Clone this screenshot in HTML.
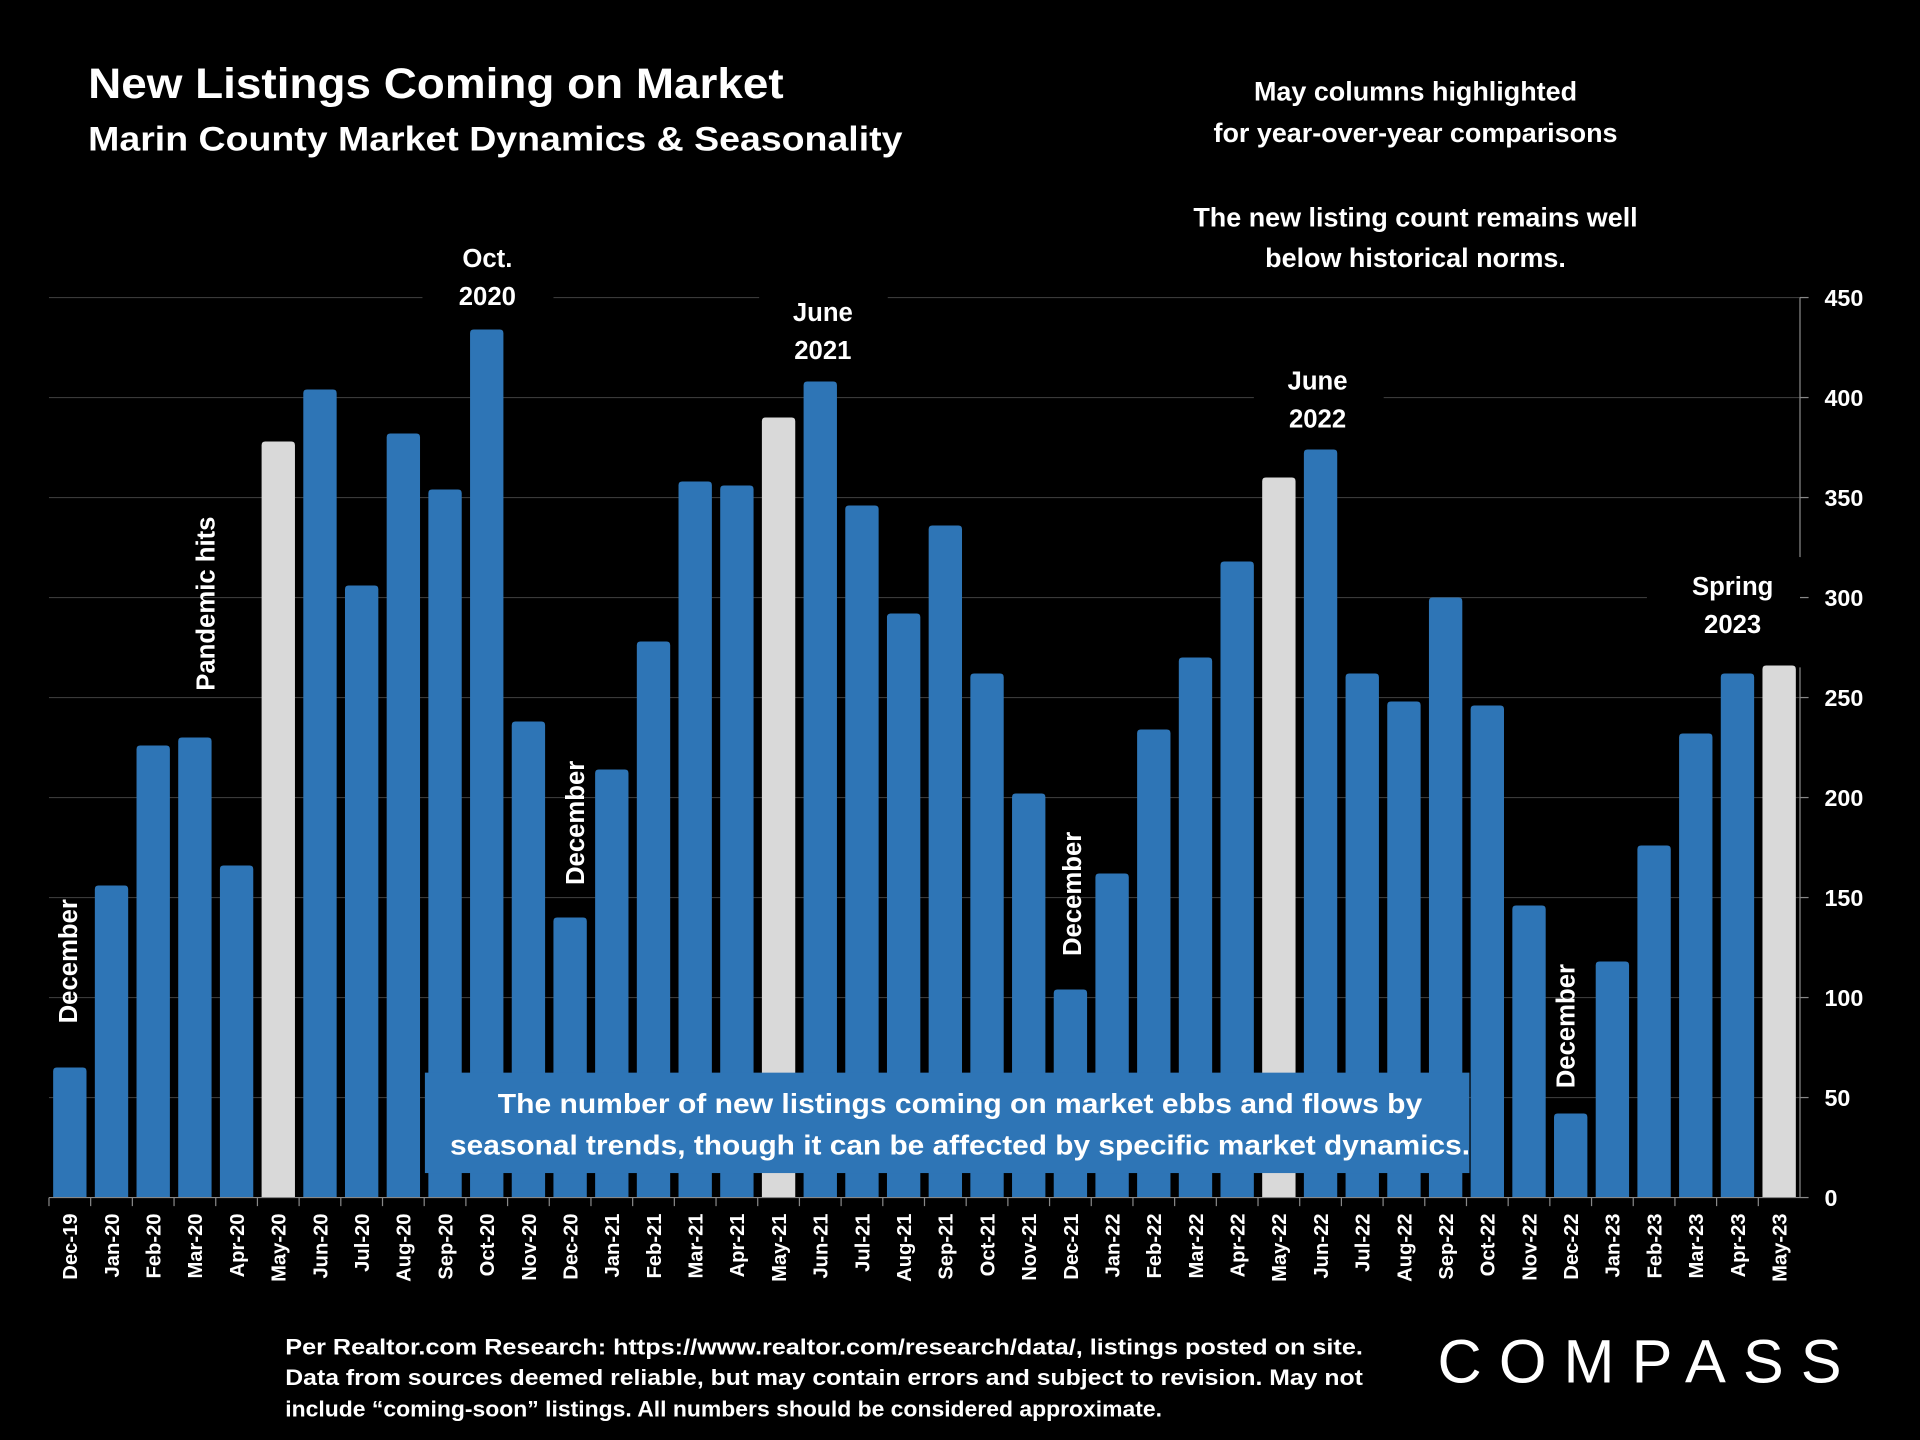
<!DOCTYPE html>
<html><head><meta charset="utf-8"><style>
html,body{margin:0;padding:0;background:#000;}
svg{display:block;font-family:"Liberation Sans",sans-serif;}
</style></head><body>
<svg id="chart" width="1920" height="1440" viewBox="0 0 1568 1176" xmlns="http://www.w3.org/2000/svg">
<rect width="1568" height="1176" fill="#000"/>
<g id="grid"></g>
<g id="bars"></g>
<g id="axes"></g>
<g id="annot" fill="#fff" font-weight="bold">
<text x="72" y="80" font-size="35" textLength="568" lengthAdjust="spacingAndGlyphs">New Listings Coming on Market</text>
<text x="72" y="123" font-size="28" textLength="665" lengthAdjust="spacingAndGlyphs">Marin County Market Dynamics &amp; Seasonality</text>
<g font-size="22" text-anchor="middle">
<text x="1156" y="82">May columns highlighted</text>
<text x="1156" y="116">for year-over-year comparisons</text>
<text x="1156" y="185">The new listing count remains well</text>
<text x="1156" y="218">below historical norms.</text>
</g>
</g>
<g id="labels" fill="#fff" font-weight="bold" font-size="21" text-anchor="middle">
<rect x="345" y="195" width="107" height="65" fill="#000"/>
<text x="398" y="218">Oct.<tspan x="398" dy="31">2020</tspan></text>
<rect x="620" y="238" width="105" height="65" fill="#000"/>
<text x="672" y="262">June<tspan x="672" dy="31">2021</tspan></text>
<rect x="1024" y="295" width="106" height="65" fill="#000"/>
<text x="1076" y="318">June<tspan x="1076" dy="31">2022</tspan></text>
<rect x="1345" y="455" width="125" height="78" fill="#000"/>
<text x="1415" y="486">Spring<tspan x="1415" dy="31">2023</tspan></text>
<text transform="translate(63,785) rotate(-90)">December</text>
<text transform="translate(175,493) rotate(-90)">Pandemic hits</text>
<text transform="translate(477,672) rotate(-90)">December</text>
<text transform="translate(883,730) rotate(-90)">December</text>
<text transform="translate(1286,838) rotate(-90)">December</text>
</g>
<g>
<rect x="347" y="876" width="853" height="82" fill="#2E75B6"/>
<text x="784" y="909" fill="#fff" font-weight="bold" font-size="23" text-anchor="middle" textLength="755" lengthAdjust="spacingAndGlyphs">The number of new listings coming on market ebbs and flows by</text>
<text x="784" y="943" fill="#fff" font-weight="bold" font-size="23" text-anchor="middle" textLength="833" lengthAdjust="spacingAndGlyphs">seasonal trends, though it can be affected by specific market dynamics.</text>
</g>
<g fill="#fff" font-weight="bold" font-size="18">
<text x="233" y="1106" textLength="880" lengthAdjust="spacingAndGlyphs">Per Realtor.com Research:  https://www.realtor.com/research/data/, listings posted on site.</text>
<text x="233" y="1131" textLength="880" lengthAdjust="spacingAndGlyphs">Data from sources deemed reliable, but may contain errors and subject to revision. May not</text>
<text x="233" y="1157" textLength="716" lengthAdjust="spacingAndGlyphs">include “coming-soon” listings. All numbers should be considered approximate.</text>
</g>
<text x="1174" y="1129" fill="#fff" font-size="50" textLength="330" lengthAdjust="spacing">COMPASS</text>
</svg>
<script>
const categories=["Dec-19","Jan-20","Feb-20","Mar-20","Apr-20","May-20","Jun-20","Jul-20","Aug-20","Sep-20","Oct-20","Nov-20","Dec-20","Jan-21","Feb-21","Mar-21","Apr-21","May-21","Jun-21","Jul-21","Aug-21","Sep-21","Oct-21","Nov-21","Dec-21","Jan-22","Feb-22","Mar-22","Apr-22","May-22","Jun-22","Jul-22","Aug-22","Sep-22","Oct-22","Nov-22","Dec-22","Jan-23","Feb-23","Mar-23","Apr-23","May-23"];
const listings=[65,156,226,230,166,378,404,306,382,354,434,238,140,214,278,358,356,390,408,346,292,336,262,202,104,162,234,270,318,360,374,262,248,300,246,146,42,118,176,232,262,266];
const yTicks=[0,50,100,150,200,250,300,350,400,450];
const NS="http://www.w3.org/2000/svg";
const x0=40,x1=1470,y0=978,yTop=243,yMax=450;
const band=(x1-x0)/categories.length;
const xC=i=>x0+band*(i+0.5);
const yS=v=>y0-(v/yMax)*(y0-yTop);
function mk(t,a,p){const e=document.createElementNS(NS,t);for(const k in a)e.setAttribute(k,a[k]);p.appendChild(e);return e;}
const grid=document.getElementById('grid'),bars=document.getElementById('bars'),axes=document.getElementById('axes');
yTicks.forEach(v=>{
  if(v>0){const l=mk('line',{x1:x0,x2:x1,y1:yS(v),y2:yS(v),stroke:'#3a3a3a','stroke-width':1},grid);
  
  }
  mk('line',{x1:x1,x2:x1+7,y1:yS(v),y2:yS(v),stroke:'#888'},axes);
  const t=mk('text',{x:x1+20,y:yS(v)+7,fill:'#fff','font-size':19,'font-weight':'bold'},axes);
  t.textContent=v;
  
  
});
mk('line',{x1:x1,x2:x1,y1:yTop,y2:455,stroke:'#888'},axes);
mk('line',{x1:x1,x2:x1,y1:545,y2:y0,stroke:'#888'},axes);
mk('line',{x1:x0,x2:x1,y1:y0,y2:y0,stroke:'#888'},axes);
const bw=band*0.8;
listings.forEach((v,i)=>{
  const isMay=categories[i].startsWith('May');
  const x=xC(i)-bw/2,r=3;
  const d=`M${x},${y0}V${yS(v)+r}Q${x},${yS(v)} ${x+r},${yS(v)}H${x+bw-r}Q${x+bw},${yS(v)} ${x+bw},${yS(v)+r}V${y0}Z`;
  const b=mk('path',{d:d,fill:isMay?'#D9D9D9':'#2E75B6'},bars);
  
  
  mk('line',{x1:x0+band*i,x2:x0+band*i,y1:y0,y2:y0+7,stroke:'#888'},axes);
  const t=mk('text',{transform:`translate(${xC(i)+6},991) rotate(-90)`,fill:'#fff','font-size':16.5,'font-weight':'bold','text-anchor':'end'},axes);
  t.textContent=categories[i];
  
  
});
</script>
</body></html>
